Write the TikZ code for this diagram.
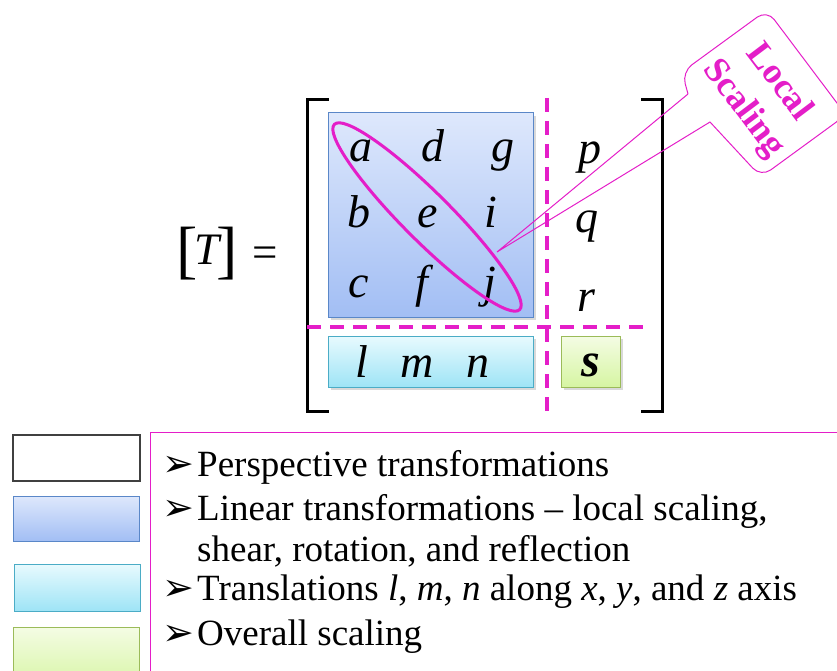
\documentclass[tikz,border=0pt]{standalone}
\usepackage{fontspec}
\setmainfont{Liberation Serif}
\newfontfamily\dingfont{DejaVu Sans}
\definecolor{mag}{RGB}{228,30,200}
\definecolor{blueTop}{RGB}{222,232,252}
\definecolor{blueBot}{RGB}{162,190,244}
\definecolor{blueEdge}{RGB}{90,135,200}
\definecolor{cyanTop}{RGB}{232,250,254}
\definecolor{cyanBot}{RGB}{158,228,246}
\definecolor{cyanEdge}{RGB}{75,172,198}
\definecolor{greenTop}{RGB}{244,252,228}
\definecolor{greenBot}{RGB}{214,245,162}
\definecolor{greenEdge}{RGB}{155,187,89}
\begin{document}
\begin{tikzpicture}[x=1pt,y=-1pt,
  mat/.style={font=\fontsize{46}{46}\selectfont\itshape, anchor=base, inner sep=0pt},
  leg/.style={font=\fontsize{37}{37}\selectfont, anchor=base west, inner sep=0pt},
  bul/.style={font=\dingfont\fontsize{38}{38}\selectfont, anchor=base west, inner sep=0pt},
  shadowbox/.style={fill=black, opacity=0.15},
  bluebox/.style={draw=blueEdge, line width=1pt, top color=blueTop, bottom color=blueBot},
  cyanbox/.style={draw=cyanEdge, line width=1pt, top color=cyanTop, bottom color=cyanBot},
  greenbox/.style={draw=greenEdge, line width=1pt, top color=greenTop, bottom color=greenBot},
  whitebox/.style={draw=black!75, line width=1.5pt, fill=white},
  dashline/.style={draw=mag, line width=3.5pt, dash pattern=on 14pt off 9pt},
  bracketline/.style={draw=black, line width=3pt}
]
\useasboundingbox (0,0) rectangle (837,671);
\clip (0,0) rectangle (837,671);

% [T] =
\node[inner sep=0pt, font=\fontsize{64}{64}\selectfont] (lb) at (187,254) {[};
\node[inner sep=0pt, font=\fontsize{45}{45}\selectfont\itshape] (T) at (207,250) {T};
\node[inner sep=0pt, font=\fontsize{64}{64}\selectfont] (rb) at (227,254) {]};
\node[inner sep=0pt, font=\fontsize{45}{45}\selectfont] (eq) at (265,257) {=};

% matrix boxes
\fill[shadowbox] (331,116) rectangle (536,320);
\path[bluebox] (328,113) rectangle (533,317);
\fill[shadowbox] (331,339) rectangle (536,390);
\path[cyanbox] (328,336) rectangle (533,387);
\fill[shadowbox] (564,339) rectangle (623,390);
\path[greenbox] (561,336) rectangle (620,387);

% big brackets
\draw[bracketline] (329,100) -- (307,100) -- (307,411) -- (329,411);
\draw[bracketline] (641,100) -- (662,100) -- (662,411) -- (641,411);

% dashed separators
\draw[dashline] (547,98) -- (547,412);
\draw[dashline] (307,327) -- (643,327);

% entries
\node[mat] (a) at (361,161) {a};
\node[mat] (d) at (433,161) {d};
\node[mat] (g) at (503,161) {g};
\node[mat] (b) at (359,227) {b};
\node[mat] (e) at (428,227) {e};
\node[mat] (i) at (491,227) {i};
\node[mat] (c) at (359,297) {c};
\node[mat] (f) at (422,297) {f};
\node[mat] (j) at (490,297) {j};
\node[mat] (p) at (590,164) {p};
\node[mat] (q) at (587,232) {q};
\node[mat] (r) at (586,311) {r};
\node[mat] (l) at (362,377) {l};
\node[mat] (m) at (417,377) {m};
\node[mat] (n) at (478,377) {n};
\node[mat, font=\fontsize{48}{48}\selectfont\bfseries\itshape] (s) at (591,376) {s};

% diagonal ellipse
\draw[mag, line width=3pt, rotate around={-45:(427,217)}] (427,217) ellipse [x radius=131, y radius=24];

% callout
\draw[mag, line width=1pt] (688,94) -- (497,252) -- (710,122)
  [rounded corners=12pt] -- (761,177) -- (846,115) -- (767,10) -- (682,72)
  [sharp corners] -- (688,94);
\node[mag, rotate=-53, align=center, inner sep=0pt,
  font=\fontsize{36}{44}\selectfont\bfseries] (callout) at (761,96) {Local\\Scaling};

% legend swatches
\path[whitebox] (13,435) rectangle (140,481);
\path[bluebox] (13,496) rectangle (139,541);
\path[cyanbox] (14,564) rectangle (140,611);
\path[greenbox] (13,627) rectangle (139,690);

% legend frame
\draw[mag, line width=1pt] (150,690) -- (150,432) -- (845,432);

% legend text
\node[bul] (b1) at (162,476) {➢};
\node[leg] (t1) at (197,476) {Perspective transformations};
\node[bul] (b2) at (162,520) {➢};
\node[leg] (t2) at (197,520) {Linear transformations – local scaling,};
\node[leg] (t3) at (197,561) {shear, rotation, and reflection};
\node[bul] (b4) at (162,600) {➢};
\node[leg] (t4) at (197,600) {Translations \textit{l}, \textit{m}, \textit{n} along \textit{x}, \textit{y}, and \textit{z} axis};
\node[bul] (b5) at (162,645) {➢};
\node[leg] (t5) at (197,645) {Overall scaling};
\end{tikzpicture}
\end{document}
